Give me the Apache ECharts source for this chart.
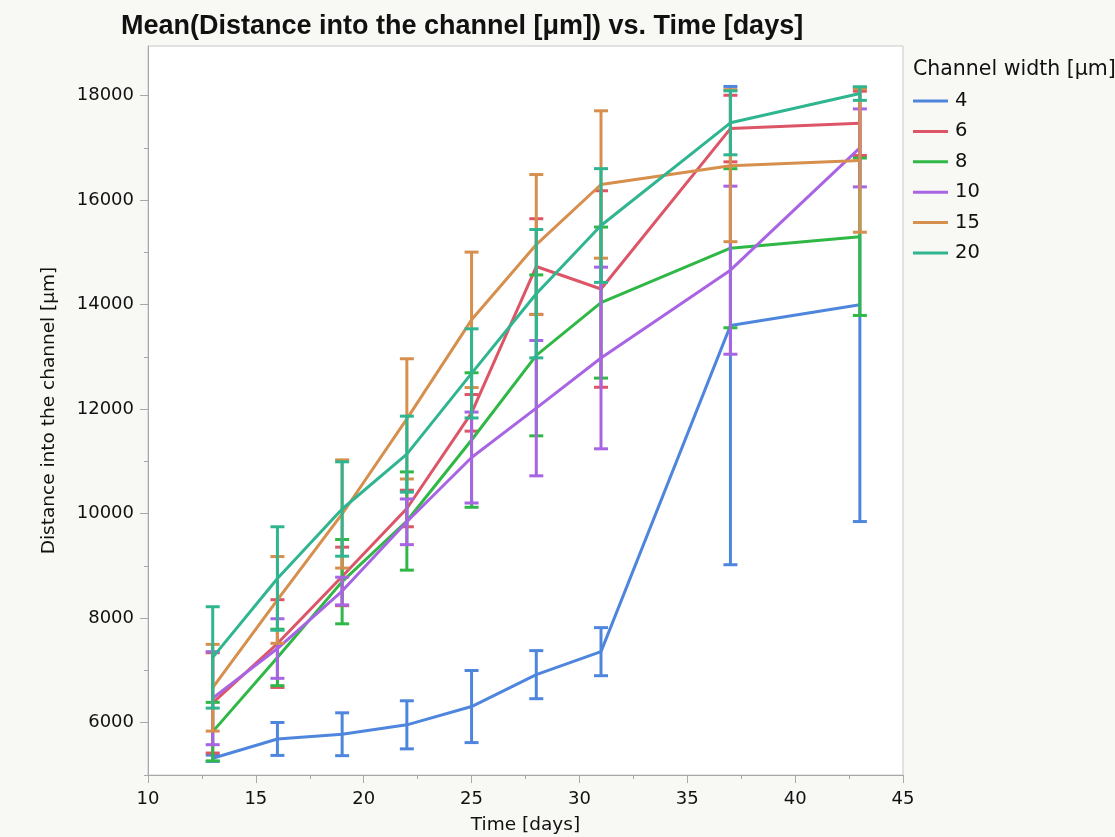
<!DOCTYPE html>
<html>
<head>
<meta charset="utf-8">
<script src="https://cdn.jsdelivr.net/npm/echarts@6/dist/echarts.min.js"></script>
<style>
  html, body { margin: 0; padding: 0; background: #f8f8f4; }
  #chart { width: 1115px; height: 837px; }
</style>
</head>
<body>
<div id="chart"></div>
<script>
// time points (days)
const days = [13, 16, 19, 22, 25, 28, 31, 37, 43]
// channel widths [μm]
const widths = ['4', '6', '8', '10', '15', '20']
const colors = ['#4f86dd', '#dc5668', '#30b847', '#a864e3', '#d68f4d', '#2fb590']

// mean distance into the channel [μm]
const mean4 = [5320, 5690, 5780, 5960, 6310, 6920, 7360, 13600, 14000]
const mean6 = [6380, 7515, 8800, 10100, 11930, 14730, 14300, 17370, 17470]
const mean8 = [5830, 7250, 8700, 9860, 11410, 13030, 14040, 15080, 15300]
const mean10 = [6470, 7420, 8520, 9845, 11075, 12020, 12980, 14660, 17000]
const mean15 = [6670, 8350, 9995, 11815, 13710, 15150, 16300, 16660, 16760]
const mean20 = [7250, 8760, 10090, 11140, 12685, 14210, 15515, 17480, 18040]

// error bar half-widths
const err4 = [60, 315, 410, 460, 690, 460, 460, 4576, 4150]
const err6 = [960, 840, 560, 350, 350, 915, 1880, 637, 615]
const err8 = [560, 540, 807, 940, 1287, 1540, 1445, 1522, 1506]
const err10 = [890, 570, 265, 437, 870, 1295, 1738, 1608, 746]
const err15 = [830, 830, 1035, 1150, 1296, 1340, 1410, 1455, 1373]
const err20 = [970, 990, 903, 727, 853, 1228, 1088, 612, 130]

const means = [mean4, mean6, mean8, mean10, mean15, mean20]
const errs = [err4, err6, err8, err10, err15, err20]

const yMajor = [6000, 8000, 10000, 12000, 14000, 16000, 18000]
const yMinor = [5000, 7000, 9000, 11000, 13000, 15000, 17000]

const chart = echarts.init(document.getElementById('chart'))

const font = 'DejaVu Sans'
const axisGray = '#a8a8a8'

// 误差线
function errorBar (color) {
  return function (params, api) {
    const x = api.value(0)
    const lo = api.coord([x, api.value(1)])
    const hi = api.coord([x, api.value(2)])
    const w = 7
    const style = { stroke: color, lineWidth: 3 }
    return {
      type: 'group',
      children: [
        { type: 'line', shape: { x1: lo[0], y1: lo[1], x2: hi[0], y2: hi[1] }, style },
        { type: 'line', shape: { x1: hi[0] - w, y1: hi[1], x2: hi[0] + w, y2: hi[1] }, style },
        { type: 'line', shape: { x1: lo[0] - w, y1: lo[1], x2: lo[0] + w, y2: lo[1] }, style }
      ]
    }
  }
}

const series = []
widths.forEach((name, k) => {
  series.push({
    name: name,
    type: 'line',
    data: days.map((d, i) => [d, means[k][i]]),
    showSymbol: false,
    symbol: 'none',
    lineStyle: { color: colors[k], width: 3 },
    itemStyle: { color: colors[k] },
    z: 2 + k,
    silent: true
  })
  series.push({
    type: 'custom',
    renderItem: errorBar(colors[k]),
    data: days.map((d, i) => [d, means[k][i] - errs[k][i], means[k][i] + errs[k][i]]),
    encode: { x: 0, y: [1, 2] },
    z: 2 + k,
    silent: true
  })
})

const option = {
  backgroundColor: '#f8f8f4',
  animation: false,
  title: {
    text: 'Mean(Distance into the channel [μm]) vs. Time [days]',
    left: 121,
    top: 13,
    padding: 0,
    textStyle: { fontFamily: 'Liberation Sans', fontWeight: 'bold', fontSize: 27, color: '#111' }
  },
  legend: {
    orient: 'vertical',
    left: 913,
    top: 91,
    padding: 0,
    icon: 'rect',
    itemWidth: 35,
    itemHeight: 3,
    itemGap: 10.4,
    data: widths,
    textStyle: { fontFamily: font, fontSize: 19.5, color: '#111', padding: [0, 0, 0, 2] }
  },
  graphic: [{
    type: 'text',
    left: 913,
    top: 59,
    style: { text: 'Channel width [μm]', font: '20.5px "DejaVu Sans"', fill: '#111' }
  }],
  grid: {
    left: 148,
    right: 212,
    top: 46,
    bottom: 62,
    outerBoundsMode: 'none',
    containLabel: false,
    show: true,
    backgroundColor: '#ffffff',
    borderColor: '#c8c8c8',
    borderWidth: 1
  },
  xAxis: {
    type: 'value',
    min: 10,
    max: 45,
    interval: 5,
    name: 'Time [days]',
    nameLocation: 'middle',
    nameGap: 41,
    nameTextStyle: { fontFamily: font, fontSize: 18.5, color: '#111' },
    axisLine: { lineStyle: { color: axisGray } },
    axisTick: { length: 8, lineStyle: { color: axisGray } },
    minorTick: { show: true, splitNumber: 2, length: 4, lineStyle: { color: axisGray } },
    splitLine: { show: false },
    axisLabel: { fontFamily: font, fontSize: 18, color: '#111', margin: 15 }
  },
  yAxis: [{
    type: 'value',
    min: 5000,
    max: 18950,
    name: 'Distance into the channel [μm]',
    nameLocation: 'middle',
    nameGap: 89,
    nameTextStyle: { fontFamily: font, fontSize: 18.5, color: '#111' },
    axisLine: { show: true, lineStyle: { color: axisGray } },
    axisTick: { show: true, length: 8, customValues: yMajor, lineStyle: { color: axisGray } },
    splitLine: { show: false },
    axisLabel: {
      fontFamily: font,
      fontSize: 18,
      color: '#111',
      margin: 14,
      customValues: yMajor,
      formatter: v => String(v)
    }
  }, {
    type: 'value',
    min: 5000,
    max: 18950,
    position: 'left',
    axisLine: { show: false },
    axisTick: { show: true, length: 4, customValues: yMinor, lineStyle: { color: axisGray } },
    splitLine: { show: false },
    axisLabel: { show: false, customValues: yMinor }
  }],
  series: series
}

chart.setOption(option)
</script>
</body>
</html>
